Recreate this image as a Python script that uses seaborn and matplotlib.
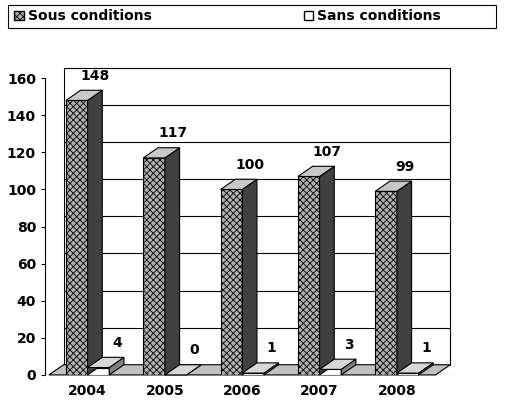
import matplotlib
matplotlib.use("Agg")
import matplotlib.pyplot as plt
import seaborn as sns
import pandas as pd
from matplotlib.patches import Polygon, Patch, Rectangle

years = ["2004", "2005", "2006", "2007", "2008"]
sous = [148, 117, 100, 107, 99]
sans = [4, 0, 1, 3, 1]
series = ["Sous conditions", "Sans conditions"]

df = pd.DataFrame({
    "year": years * 2,
    "value": sous + sans,
    "serie": [series[0]] * 5 + [series[1]] * 5,
})

sns.set_style("white")
plt.rcParams["font.family"] = ["DejaVu Sans"]
plt.rcParams["hatch.linewidth"] = 0.6
plt.rcParams["text.color"] = "black"
plt.rcParams["xtick.color"] = "black"
plt.rcParams["ytick.color"] = "black"

fig = plt.figure(figsize=(5.06, 4.01), dpi=100)
ax = fig.add_axes([0.089, 0.065, 0.81, 0.74])

sns.barplot(data=df, x="year", y="value", hue="serie", ax=ax, width=0.56,
            palette=["#b0b0b0", "white"], edgecolor="black", linewidth=0.8,
            legend=False, zorder=3)

dx, dy = 0.19, 5.5
ax.set_xlim(-0.55, 4.75)
ax.set_ylim(0, 160)

for v in range(0, 161, 20):
    ax.plot([-0.5 + dx, 4.5 + dx], [v + dy, v + dy], color="black", lw=0.8, zorder=1,
            clip_on=False)
ax.plot([-0.5 + dx, -0.5 + dx], [dy, 160 + dy], color="black", lw=0.8, zorder=1, clip_on=False)
ax.plot([4.5 + dx, 4.5 + dx], [dy, 160 + dy], color="black", lw=0.8, zorder=1, clip_on=False)
ax.add_patch(Polygon([[-0.5, 0], [4.5, 0], [4.5 + dx, dy], [-0.5 + dx, dy]],
                     closed=True, facecolor="#c0c0c0", edgecolor="black", lw=0.8,
                     zorder=2, clip_on=False))

sides = ["#404040", "#808080"]
tops = ["#c8c8c8", "#d8d8d8"]
for i, p in enumerate(ax.patches[:10]):
    k = 0 if i < 5 else 1
    p.set_hatch("xxxxx" if k == 0 else None)
    x0, w, h = p.get_x(), p.get_width(), p.get_height()
    x1 = x0 + w
    ax.add_patch(Polygon([[x1, 0], [x1 + dx, dy], [x1 + dx, h + dy], [x1, h]],
                         closed=True, facecolor=sides[k], edgecolor="black", lw=0.8,
                         zorder=3, clip_on=False))
    ax.add_patch(Polygon([[x0, h], [x1, h], [x1 + dx, h + dy], [x0 + dx, h + dy]],
                         closed=True, facecolor=tops[k], edgecolor="black", lw=0.8,
                         zorder=3, clip_on=False))
    ax.text(x0 + w / 2 + dx + 0.05, h + dy + 4, str([sous, sans][k][i % 5]),
            ha="center", va="bottom", fontsize=10, fontweight="bold", color="black",
            zorder=4)

ax.set_yticks(range(0, 161, 20))
ax.set_xlabel("")
ax.set_ylabel("")
ax.tick_params(axis="both", labelsize=10, length=3, left=True, bottom=False)
for t in ax.get_xticklabels() + ax.get_yticklabels():
    t.set_fontweight("bold")
for s in ["top", "right", "bottom"]:
    ax.spines[s].set_visible(False)
ax.spines["left"].set_color("black")
ax.axhline(0, color="black", lw=0.8, zorder=2)

# legend box
fig.patches.append(Rectangle((0.016, 0.930), 0.965, 0.058, transform=fig.transFigure,
                             facecolor="white", edgecolor="black", lw=0.8))
for name, pos, h in [(series[0], 0.028, dict(facecolor="#b0b0b0", edgecolor="black", hatch="xxxxx")),
                     (series[1], 0.600, dict(facecolor="white", edgecolor="black"))]:
    fig.legend([Patch(**h)], [name], loc="center left", bbox_to_anchor=(pos, 0.959),
               frameon=False, prop={"weight": "bold", "size": 10}, handlelength=0.7,
               handleheight=0.7, handletextpad=0.3, borderpad=0, borderaxespad=0)

fig.savefig("out.png", dpi=100)
